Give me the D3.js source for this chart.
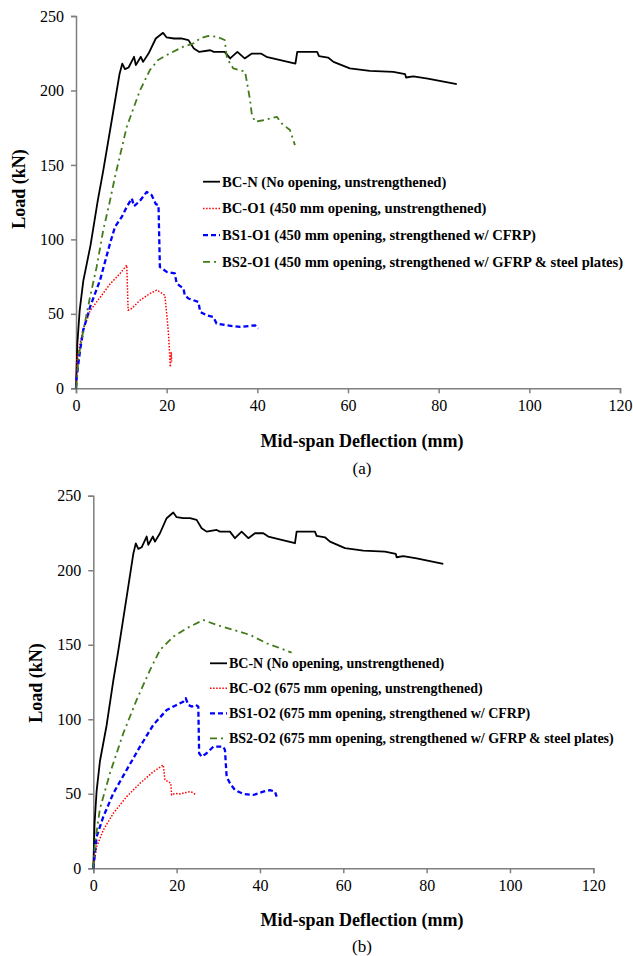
<!DOCTYPE html>
<html>
<head>
<meta charset="utf-8">
<script src="https://cdn.jsdelivr.net/npm/d3@7/dist/d3.min.js"></script>
<style>
  html, body { margin: 0; padding: 0; background: #fff; }
  svg { display: block; }
  text { font-family: "Liberation Serif", "Times New Roman", Times, serif; fill: #000; }
</style>
</head>
<body>
<svg id="chart" width="633" height="956"></svg>
<script>
// ---------------- DATA ----------------
const xTicks = [0, 20, 40, 60, 80, 100, 120];
const yTicks = [0, 50, 100, 150, 200, 250];
const xTitle = "Mid-span Deflection (mm)";
const yTitle = "Load (kN)";
const panelLabels = ["(a)", "(b)"];

const legendA = [
  "BC-N (No opening, unstrengthened)",
  "BC-O1 (450 mm opening, unstrengthened)",
  "BS1-O1 (450 mm opening, strengthened w/ CFRP)",
  "BS2-O1 (450 mm opening, strengthened w/ GFRP & steel plates)"
];
const legendB = [
  "BC-N (No opening, unstrengthened)",
  "BC-O2 (675 mm opening, unstrengthened)",
  "BS1-O2 (675 mm opening, strengthened w/ CFRP)",
  "BS2-O2 (675 mm opening, strengthened w/ GFRP & steel plates)"
];

// [deflection (mm), load (kN)]
const bcN = [[0,0],[0.3,30],[0.8,52],[1.6,72],[3.2,96],[4.8,126],[6,146],[8,182],[9.6,211],[10.2,218],
  [10.8,214.3],[11.6,215.4],[12.8,222.6],[13.2,217],[14.3,222.6],[14.8,219.2],[16,224.8],[17.6,234.9],
  [19.2,238.7],[20,235.6],[21.6,234.9],[23.2,234.9],[24.8,233.8],[26,228.2],[27.2,225.9],[29.6,227],
  [30.4,225.9],[32.8,225.9],[34,221.5],[35.6,225.9],[37.2,221.5],[38.8,224.8],[40.8,224.8],[42,222.6],
  [48.4,218.1],[48.8,225.9],[53.2,225.9],[53.6,223],[55.6,222.1],[56.8,219.2],[60.4,214.8],[64.8,213.2],
  [70,212.5],[72.6,210.9],[72.8,208.7],[74.4,209.5],[77.6,208],[84,204.2]];

const bcO1 = [[0,0],[0.15,18],[0.9,30],[1.6,40],[2.4,46],[3.1,52],[5.3,61],[7.5,70],[9.7,77],[11.2,82.7],
  [11.5,52.4],[12.3,53.6],[14.1,59.1],[16.3,63.6],[17.8,65.9],[18.5,64.7],[19.6,62.5],[20,50.2],
  [20.4,36.8],[20.8,14.3],[21.0,24],[21.1,18]];

const bs1O1 = [[0,0],[0.15,7.6],[0.9,25.5],[1.6,39],[3.1,54.6],[5.3,72.6],[7.5,97.2],[8.6,108.4],
  [10.1,115.1],[11.2,121.8],[12.3,127.5],[12.8,122.3],[14.1,125.9],[15.6,131.9],[16.7,129.7],[17.6,123.7],
  [18.2,123],[18.5,81.5],[20,78.2],[21.8,77.1],[22.2,70.4],[23.7,67],[24,62.5],[24.8,60.3],[27,58],
  [27.4,51.3],[28.8,49],[30.3,47.9],[31,43.5],[33.2,42.3],[36.2,41.2],[39.5,42.3],[40.2,40.1]];

const bs2O1 = [[0,0],[0.2,5],[0.55,21],[1.64,39],[3.1,61.4],[4.56,81.5],[6.0,106],[7.5,126],[8.6,142],
  [11.2,175.6],[14.1,200],[16.3,213.7],[18.1,220.4],[20.7,224.9],[23.7,229.4],[25.9,231.6],[27.4,235],
  [29.2,236.6],[31,236.1],[32.8,233.9],[33.3,221.6],[34.7,214.8],[37.3,212.6],[38.4,193.5],[38.8,183.5],
  [39.5,179],[41.3,180],[42.8,181.2],[44.3,182.3],[45.4,177.8],[47.2,173.4],[48.3,163.3]];

const bcO2 = [[0,0],[0.8,14.5],[2.4,25.7],[4.8,36.9],[8,48.1],[11.2,57],[14.4,64.8],[16.8,69.3],
  [17.2,59.3],[18,58.1],[18.6,57],[18.8,49.2],[19.6,50.3],[20.8,49.9],[22,50.7],[23.2,51.4],[24,50.7],[24.6,49.2]];

const bs1O2 = [[0,0],[0.8,21.2],[2.4,34.6],[4.8,50.3],[8,66],[11.2,81.6],[14.4,96.2],[17.6,106.2],
  [20,109.6],[21.6,111.8],[22.2,114.1],[22.8,109.6],[23.6,108.5],[24.6,109.6],[25.2,108.5],[25.4,77.2],
  [26,74.9],[27.2,77.2],[28.8,81.6],[31.2,81.6],[31.6,79.4],[32,61.5],[32.8,57],[34,52.5],[36,49.9],
  [38.4,49.2],[40.8,51.4],[42.4,52.5],[43.6,51.4],[44,48.1]];

const bs2O2 = [[0,0],[0.4,17],[1.6,40],[4,63.8],[7.2,90.6],[10.4,113],[13.6,133],[16,146.5],[19.2,155.4],
  [22.4,161.1],[26.4,166.6],[29.6,163.3],[33.6,160],[37.6,156.6],[41.6,151],[44.8,147.7],[47.6,144.7]];

// ---------------- STYLES ----------------
const styles = [
  { color: "#000000", width: 1.8, dash: null },
  { color: "#ff0000", width: 1.5, dash: "1.5,1.6" },
  { color: "#0000ff", width: 2.3, dash: "5,3" },
  { color: "#437a1a", width: 1.8, dash: "7,4,2,4" }
];

const panels = [
  { series: [bcN, bcO1, bs1O1, bs2O1], legend: legendA, label: panelLabels[0],
    x0: 76, x1: 620, yTop: 16, yBot: 388.3, legX: 203, legW: 17, legY: 181.7, legDy: 26.7, legFont: 14.6,
    yTitleX: 19, yTitleY: 189, xTitleY: 447, labelY: 474 },
  { series: [bcN, bcO2, bs1O2, bs2O2], legend: legendB, label: panelLabels[1],
    x0: 93.3, x1: 593.3, yTop: 495.7, yBot: 868.3, legX: 210, legW: 17, legY: 663.3, legDy: 25, legFont: 14,
    yTitleX: 36, yTitleY: 683, xTitleY: 926, labelY: 952 }
];

const svg = d3.select("#chart");
const serif = "'Liberation Serif', 'Times New Roman', Times, serif";

panels.forEach(p => {
  const x = d3.scaleLinear().domain([0, 120]).range([p.x0, p.x1]);
  const y = d3.scaleLinear().domain([0, 250]).range([p.yBot, p.yTop]);
  const g = svg.append("g");

  // axes
  const xAxis = d3.axisBottom(x).tickValues(xTicks).tickSize(5).tickPadding(6);
  const yAxis = d3.axisLeft(y).tickValues(yTicks).tickSize(5).tickPadding(7);
  const gx = g.append("g").attr("transform", `translate(0,${p.yBot})`).call(xAxis);
  const gy = g.append("g").attr("transform", `translate(${p.x0},0)`).call(yAxis);
  [gx, gy].forEach(a => {
    a.attr("font-family", serif);
    a.select(".domain").attr("stroke", "#7f7f7f").attr("stroke-width", 1.5);
    a.selectAll(".tick line").attr("stroke", "#7f7f7f").attr("stroke-width", 1.5);
    a.selectAll(".tick text").attr("font-family", serif).attr("font-size", 16).attr("fill", "#000");
  });

  // lines
  const line = d3.line().x(d => x(d[0])).y(d => y(d[1]));
  p.series.forEach((s, i) => {
    const st = styles[i];
    g.append("path").datum(s).attr("d", line)
      .attr("fill", "none").attr("stroke", st.color).attr("stroke-width", st.width)
      .attr("stroke-dasharray", st.dash).attr("stroke-linejoin", "round");
  });

  // legend
  p.legend.forEach((t, i) => {
    const st = styles[i];
    const cy = p.legY + i * p.legDy;
    g.append("line").attr("x1", p.legX).attr("x2", p.legX + p.legW).attr("y1", cy).attr("y2", cy)
      .attr("stroke", st.color).attr("stroke-width", st.width).attr("stroke-dasharray", st.dash);
    g.append("text").attr("x", p.legX + p.legW + 2).attr("y", cy + 5)
      .attr("font-family", serif).attr("font-size", p.legFont).attr("font-weight", "bold").text(t);
  });

  // titles
  g.append("text").attr("transform", `translate(${p.yTitleX + 6},${p.yTitleY}) rotate(-90)`)
    .attr("text-anchor", "middle").attr("font-family", serif).attr("font-size", 18)
    .attr("font-weight", "bold").text(yTitle);
  g.append("text").attr("x", 362).attr("y", p.xTitleY).attr("text-anchor", "middle")
    .attr("font-family", serif).attr("font-size", 18).attr("font-weight", "bold").text(xTitle);
  g.append("text").attr("x", 362).attr("y", p.labelY).attr("text-anchor", "middle")
    .attr("font-family", serif).attr("font-size", 17).text(p.label);
});
</script>
</body>
</html>
